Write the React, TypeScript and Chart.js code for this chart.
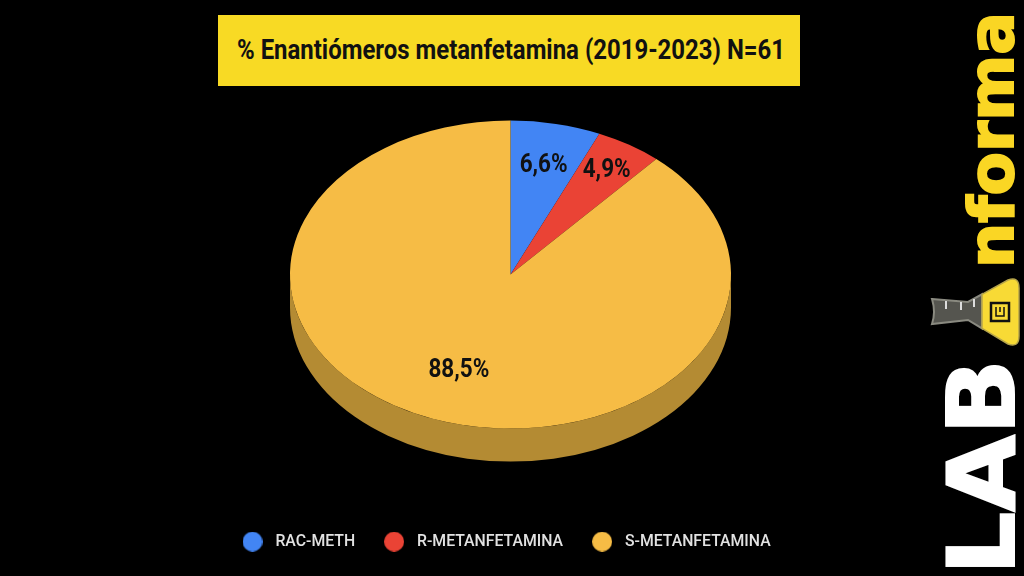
import React, { useEffect, useRef } from "react";
import { Chart, registerables } from "chart.js";

Chart.register(...registerables);

const categories = ["RAC-METH", "R-METANFETAMINA", "S-METANFETAMINA"];
const percentages = [6.6, 4.9, 88.5];
const sliceColors = ["#4285F4", "#EA4335", "#F6BC45"];
const wallColors = ["#2F5FAD", "#A62F26", "#B48B33"];
const labelRadii = [0.73, 0.81, 0.663];

const chartTitle = "% Enantiómeros metanfetamina (2019-2023) N=61";
const TILT = 154 / 220.5;
const DEPTH = 33;

const formatPct = (v: number) => v.toFixed(1).replace(".", ",") + "%";

function makeDot(color: string): HTMLCanvasElement {
  const c = document.createElement("canvas");
  c.width = 20;
  c.height = 20;
  const x = c.getContext("2d")!;
  x.fillStyle = color;
  x.beginPath();
  x.arc(10, 10, 10, 0, Math.PI * 2);
  x.fill();
  return c;
}

const tiltedPie = {
  id: "tiltedPie",
  beforeDatasetsDraw(chart: any) {
    const ctx = chart.ctx;
    const arcs = chart.getDatasetMeta(0).data;
    ctx.save();
    arcs.forEach((arc: any, i: number) => {
      const a0 = Math.max(arc.startAngle, 0);
      const a1 = Math.min(arc.endAngle, Math.PI);
      if (a1 <= a0) return;
      const rx = arc.outerRadius;
      const ry = rx * TILT;
      ctx.fillStyle = wallColors[i];
      ctx.beginPath();
      ctx.ellipse(arc.x, arc.y, rx, ry, 0, a0, a1);
      ctx.ellipse(arc.x, arc.y + DEPTH, rx, ry, 0, a1, a0, true);
      ctx.closePath();
      ctx.fill();
    });
    const cy = arcs[0].y;
    ctx.translate(0, cy);
    ctx.scale(1, TILT);
    ctx.translate(0, -cy);
  },
  afterDatasetsDraw(chart: any) {
    const ctx = chart.ctx;
    ctx.restore();
    const arcs = chart.getDatasetMeta(0).data;
    arcs.forEach((arc: any, i: number) => {
      const mid = (arc.startAngle + arc.endAngle) / 2;
      const r = arc.outerRadius * labelRadii[i];
      const x = arc.x + r * Math.cos(mid);
      const y = arc.y + r * TILT * Math.sin(mid);
      ctx.save();
      ctx.translate(x, y);
      ctx.scale(0.9, 1);
      ctx.font = "700 25px Roboto";
      ctx.fillStyle = "#111111";
      ctx.textAlign = "center";
      ctx.textBaseline = "middle";
      ctx.fillText(formatPct(percentages[i]), 0, 1);
      ctx.restore();
    });
  },
};

export default function App() {
  const ref = useRef<HTMLCanvasElement>(null);
  useEffect(() => {
    document.body.style.margin = "0";
    document.body.style.background = "#000";
    const chart = new Chart(ref.current!, {
      type: "pie",
      data: {
        labels: categories,
        datasets: [
          {
            data: percentages,
            backgroundColor: sliceColors,
            borderWidth: 0,
            radius: 220.5,
            clip: false,
          } as any,
        ],
      },
      options: {
        responsive: false,
        animation: false,
        layout: { padding: { left: 213.5, right: 216.5, top: 39.5, bottom: 16.5 } },
        plugins: {
          tooltip: { enabled: false },
          legend: {
            position: "bottom",
            align: "start",
            labels: {
              usePointStyle: true,
              pointStyleWidth: 30,
              padding: 24,
              color: "#E2E2E2",
              font: { family: "Roboto", size: 15.8, weight: "500" },
              generateLabels(c: any) {
                const items = Chart.overrides.pie.plugins.legend.labels.generateLabels(c);
                return items.map((it: any, i: number) => ({
                  ...it,
                  pointStyle: makeDot(sliceColors[i]),
                  lineWidth: 0,
                }));
              },
            },
          },
        },
      } as any,
      plugins: [tiltedPie],
    });
    return () => chart.destroy();
  }, []);

  return (
    <div style={{ position: "fixed", left: 0, top: 0, width: 1024, height: 576, background: "#000", overflow: "hidden" }}>
      <canvas ref={ref} width={1024} height={576} style={{ position: "absolute", left: 0, top: 0 }} />
      <svg width={1024} height={576} style={{ position: "absolute", left: 0, top: 0 }}>
        <rect x={218} y={15} width={582} height={71} fill="#F8DA24" />
        <text
          x={237}
          y={59}
          fontFamily="Roboto"
          fontWeight={700}
          fontSize={27}
          fill="#111111"
          textLength={548}
          lengthAdjust="spacingAndGlyphs"
        >
          {chartTitle}
        </text>
        <text
          transform="translate(1014,575) rotate(-90)"
          fontFamily="DejaVu Sans"
          fontWeight={700}
          fontSize={93}
          fill="#FFFFFF"
          stroke="#FFFFFF"
          strokeWidth={2}
          textLength={216}
          lengthAdjust="spacingAndGlyphs"
        >
          LAB
        </text>
        <text
          transform="translate(1013,268) rotate(-90)"
          fontFamily="DejaVu Sans"
          fontWeight={700}
          fontSize={62}
          fill="#FAD624"
          stroke="#FAD624"
          strokeWidth={2}
          textLength={256}
          lengthAdjust="spacingAndGlyphs"
        >
          nforma
        </text>
        <path d="M932 299 L968 302 L982 294.3 L982 328.4 L968 320 L932 324 Q936 312 932 299 Z" fill="#55554F" stroke="#8A8A80" strokeWidth={2} />
        <path d="M982 294.3 L1008 280 Q1019 276 1019 288 L1019 336 Q1019 348 1008 344 L982 328.4 Z" fill="#F8DA35" stroke="#B5A44A" strokeWidth={1.5} />
        <path d="M946 301 V309 M961 302 V310 M974 299 V307" stroke="#DDDDDD" strokeWidth={2} />
        <rect x={991} y={303} width={18} height={18} fill="none" stroke="#111111" strokeWidth={2.5} />
        <path d="M996 307 V316 H1004 V307 M1000 307 V312" fill="none" stroke="#111111" strokeWidth={1.5} />
      </svg>
    </div>
  );
}
